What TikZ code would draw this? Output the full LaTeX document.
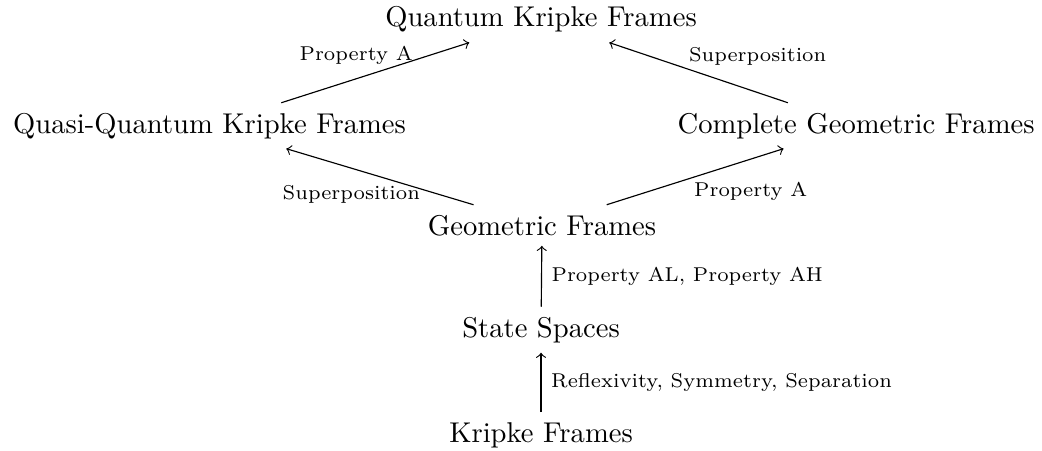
\documentclass[tikz,border=0pt]{standalone}
\begin{document}
\begin{tikzpicture}[>=to, lbl/.style={font=\scriptsize}]
    \useasboundingbox (0,0) rectangle (12.80,5.528);

    % Các loại khung
    \node[anchor=base] (quantum) at (6.646,5.197) {Quantum Kripke Frames};
    \node[anchor=base] (quasi) at (2.574,3.894) {Quasi-Quantum Kripke Frames};
    \node[anchor=base] (complete) at (10.516,3.894) {Complete Geometric Frames};
    \node[anchor=base] (geometric) at (6.658,2.641) {Geometric Frames};
    \node[anchor=base] (state) at (6.646,1.388) {State Spaces};
    \node[anchor=base] (kripke) at (6.646,0.098) {Kripke Frames};

    % Mũi tên lên trên
    \draw[->] (quasi) -- node[lbl, pos=0.71, anchor=base east, xshift=2.8pt] {Property A} (quantum);
    \draw[->] (complete) -- node[lbl, pos=0.61, anchor=base west, yshift=1.7pt] {Superposition} (quantum);
    \draw[->] (geometric) -- node[lbl, pos=0.27, anchor=base east, xshift=2.5pt, yshift=-3.6pt] {Superposition} (quasi);
    \draw[->] (geometric) -- node[lbl, pos=0.46, anchor=base west, xshift=-1.4pt, yshift=-6pt] {Property A} (complete);

    % Mũi tên thẳng đứng
    \draw[->] (state) -- node[lbl, midway, right] {Property AL, Property AH} (geometric);
    \draw[->] (kripke) -- node[lbl, midway, right] {Reflexivity, Symmetry, Separation} (state);
\end{tikzpicture}
\end{document}
